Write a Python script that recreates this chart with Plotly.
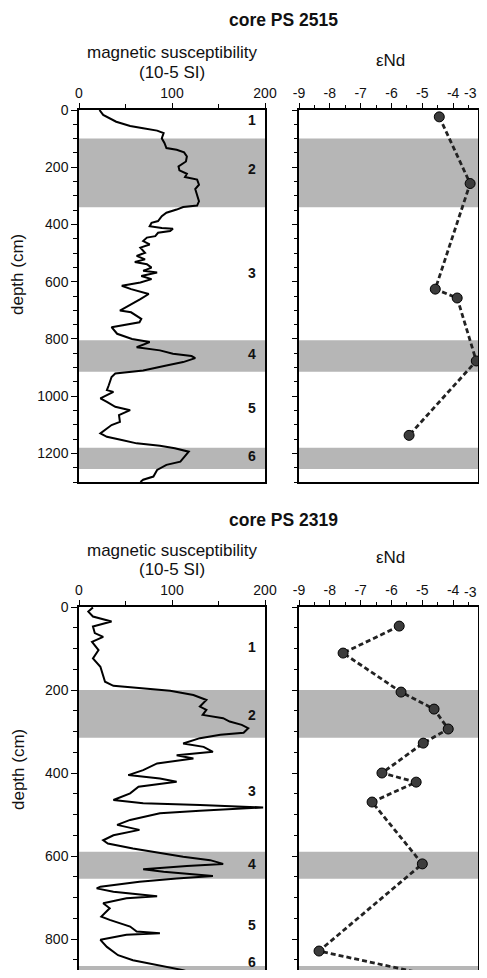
import plotly.graph_objects as go

# ---------------- data ----------------
# core PS 2515 magnetic susceptibility (10-5 SI) vs depth (cm)
ms1_depth = [0, 17, 41, 56, 64, 72, 81, 99, 116, 133, 139, 148, 162, 180, 197, 211, 223, 234, 243, 261,
             276, 296, 319, 334, 339, 348, 359, 371, 388, 394, 406, 412, 415, 423, 429, 441, 446, 458,
             470, 481, 499, 510, 522, 531, 539, 551, 562, 568, 580, 591, 603, 614, 626, 643, 661, 701,
             707, 730, 742, 759, 782, 800, 811, 829, 840, 852, 860, 867, 881, 893, 910, 921, 933, 962,
             979, 985, 1008, 1020, 1037, 1049, 1066, 1090, 1101, 1130, 1142, 1153, 1165, 1173, 1182,
             1194, 1211, 1229, 1240, 1258, 1281, 1292, 1300]
ms1_value = [22, 26, 40, 55, 69, 84, 91, 89, 92, 94, 105, 113, 116, 115, 107, 108, 116, 114, 127, 129,
             125, 127, 129, 127, 112, 105, 94, 89, 85, 78, 76, 89, 101, 98, 85, 82, 73, 69,
             76, 66, 71, 62, 71, 60, 73, 78, 69, 84, 67, 78, 66, 46, 56, 75, 66, 44,
             56, 67, 65, 35, 41, 57, 76, 62, 87, 101, 121, 125, 112, 94, 69, 39, 35, 32,
             30, 37, 23, 30, 39, 55, 43, 44, 35, 23, 30, 46, 62, 87, 103,
             118, 114, 109, 94, 84, 80, 69, 66]

# core PS 2515 eNd
nd1_depth = [24, 257, 626, 657, 877, 1137]
nd1_value = [-4.45, -3.45, -4.58, -3.87, -3.25, -5.43]

# core PS 2319 magnetic susceptibility
ms2_depth = [1, 11, 23, 35, 47, 63, 72, 84, 104, 124, 144, 164, 180, 190, 196, 202, 212, 224, 240,
             248, 260, 268, 276, 284, 292, 303, 308, 316, 329, 337, 349, 357, 365, 377, 393, 405,
             413, 421, 433, 449, 465, 473, 477, 483, 491, 497, 513, 525, 537, 550, 562, 570, 582,
             592, 602, 610, 619, 624, 632, 638, 648, 654, 662, 674, 678, 686, 697, 702, 714, 726,
             746, 754, 770, 782, 786, 790, 802, 819, 839, 851, 863, 875, 883, 891, 900]
ms2_value = [15, 10, 15, 35, 15, 17, 26, 14, 21, 15, 23, 26, 28, 37, 69, 98, 123, 137, 130,
             137, 133, 155, 162, 175, 182, 177, 152, 130, 112, 134, 144, 105, 123, 84, 69, 53,
             87, 105, 64, 55, 37, 69, 130, 198, 130, 87, 55, 41, 65, 37, 26, 31, 58,
             84, 112, 141, 155, 116, 69, 91, 144, 105, 65, 23, 19, 37, 84, 51, 26, 33,
             24, 33, 55, 62, 87, 51, 23, 30, 42, 58, 87, 112, 123, 116, 110]

# core PS 2319 eNd
nd2_depth = [46, 111, 205, 246, 294, 328, 400, 422, 470, 619, 829, 887]
nd2_value = [-5.75, -7.57, -5.69, -4.62, -4.16, -4.97, -6.31, -5.2, -6.63, -5.0, -8.35, -4.75]

# shaded intervals (depth top, depth bottom)
bands1 = [(100, 340), (805, 915), (1180, 1255)]
bands2 = [(200, 315), (590, 655), (865, 920)]

# unit labels
units = ["1", "2", "3", "4", "5", "6"]
units1_depth = [35, 205, 570, 852, 1040, 1210]
units2_depth = [96, 260, 443, 619, 766, 856]

ms_ticks = [0, 100, 200]
nd_ticks = [-9, -8, -7, -6, -5, -4]
nd_ticktext = ["-9", "-8", "-7", "-6", "-5", "-4"]
nd_edge_label = "-3"
depth1_ticks = [0, 200, 400, 600, 800, 1000, 1200]
depth2_ticks = [0, 200, 400, 600, 800]

# ---------------- figure ----------------
OFF = 8  # default page body margin; figure sized so the page does not overflow
W, H = 487 - 2 * OFF, 978 - 2 * OFF
def px(x):
    return (x - OFF) / W
def py(y):
    return 1 - (y - OFF) / H

FONT = "Liberation Sans, Arial, sans-serif"
fig = go.Figure()

line_style = dict(color="black", width=2)
nd_line = dict(color="#222", width=2.8, dash="5px,3px")
nd_marker = dict(size=10, color="#3c3c3c", line=dict(color="black", width=1))

fig.add_trace(go.Scatter(x=ms1_value, y=ms1_depth, mode="lines", line=line_style,
                         xaxis="x", yaxis="y", showlegend=False))
fig.add_trace(go.Scatter(x=nd1_value, y=nd1_depth, mode="lines+markers", line=nd_line,
                         marker=nd_marker, xaxis="x2", yaxis="y2", showlegend=False, cliponaxis=False))
fig.add_trace(go.Scatter(x=ms2_value, y=ms2_depth, mode="lines", line=line_style,
                         xaxis="x3", yaxis="y3", showlegend=False))
fig.add_trace(go.Scatter(x=nd2_value, y=nd2_depth, mode="lines+markers", line=nd_line,
                         marker=nd_marker, xaxis="x4", yaxis="y4", showlegend=False, cliponaxis=False))

ax_common = dict(showline=True, linecolor="black", linewidth=1.5, showgrid=False, zeroline=False,
                 ticks="outside", tickcolor="black", tickwidth=1.2, automargin=False,
                 tickfont=dict(family=FONT, size=14, color="#111"))
mn = dict(ticks="outside", tickcolor="black", tickwidth=1)

# pixel scale of the eNd axis in the reference: -9 at x=299, -3 at x=484;
# the visible page ends at 479, so the frame closes at 478 with the same scale
R_PX0, R_PX1, R_END = 299.0, 484.0, 478.0
nd_right = -9 + 6 * (R_END - R_PX0) / (R_PX1 - R_PX0)

xL = [px(79), px(265)]
xR = [px(R_PX0), px(R_END)]
yT = [py(482), py(110)]
yB = [0, py(607)]
depth2_bottom = (978 - OFF - 607) / 0.415

fig.update_layout(
    width=W, height=H, margin=dict(l=0, r=0, t=0, b=0, pad=0), autosize=False,
    paper_bgcolor="white", plot_bgcolor="rgba(0,0,0,0)",
    xaxis=dict(**ax_common, domain=xL, range=[0, 200], side="top", anchor="y", mirror=True,
               tickvals=ms_ticks, ticklen=5, minor=dict(dtick=50, ticklen=4, **mn)),
    yaxis=dict(**ax_common, domain=yT, range=[1300, 0], anchor="x", mirror=True,
               tickvals=depth1_ticks, ticklen=6, minor=dict(dtick=50, ticklen=4, **mn)),
    xaxis2=dict(**ax_common, domain=xR, range=[-9, nd_right], side="top", anchor="y2", mirror=True,
                tickvals=nd_ticks, ticktext=nd_ticktext, ticklen=5,
                minor=dict(dtick=0.5, ticklen=3, **mn)),
    yaxis2=dict(**ax_common, domain=yT, range=[1300, 0], anchor="x2", mirror=True, showticklabels=False,
                tickvals=depth1_ticks, ticklen=5, minor=dict(dtick=50, ticklen=3, **mn)),
    xaxis3=dict(**ax_common, domain=xL, range=[0, 200], side="top", anchor="y3", mirror=False,
                tickvals=ms_ticks, ticklen=5, minor=dict(dtick=50, ticklen=4, **mn)),
    yaxis3=dict(**ax_common, domain=yB, range=[depth2_bottom, 0], anchor="x3", mirror=True,
                tickvals=depth2_ticks, ticklen=6, minor=dict(dtick=50, ticklen=4, **mn)),
    xaxis4=dict(**ax_common, domain=xR, range=[-9, nd_right], side="top", anchor="y4", mirror=False,
                tickvals=nd_ticks, ticktext=nd_ticktext, ticklen=5,
                minor=dict(dtick=0.5, ticklen=3, **mn)),
    yaxis4=dict(**ax_common, domain=yB, range=[depth2_bottom, 0], anchor="x4", mirror=True,
                showticklabels=False,
                tickvals=depth2_ticks, ticklen=5, minor=dict(dtick=50, ticklen=3, **mn)),
)

shapes = []
for (a, b) in bands1:
    for xr, yr in (("x domain", "y"), ("x2 domain", "y2")):
        shapes.append(dict(type="rect", xref=xr, yref=yr, x0=0, x1=1, y0=a, y1=b,
                           fillcolor="#b6b6b6", line=dict(width=0), layer="below"))
for (a, b) in bands2:
    for xr, yr in (("x3 domain", "y3"), ("x4 domain", "y4")):
        shapes.append(dict(type="rect", xref=xr, yref=yr, x0=0, x1=1, y0=a, y1=min(b, depth2_bottom),
                           fillcolor="#b6b6b6", line=dict(width=0), layer="below"))
fig.update_layout(shapes=shapes)

ann = []
txt = dict(family=FONT, size=17, color="#111")
def label(text, x, y, font, **kw):
    ann.append(dict(text=text, x=px(x), y=py(y), xref="paper", yref="paper", showarrow=False,
                    xanchor="center", yanchor="middle", font=font, **kw))

tfont = dict(family=FONT, size=17.5, color="#111")
label("<b>core PS 2515</b>", 283, 20, tfont)
label("<b>core PS 2319</b>", 283, 520, tfont)
for y0 in (0, 497):
    label("magnetic susceptibility", 172, 53 + y0, txt)
    label("(10-5 SI)", 172, 72 + y0, txt)
    label("εNd", 390, 60 + y0, txt)
label("depth (cm)", 18, 275, txt, textangle=-90)
label("depth (cm)", 18, 770, txt, textangle=-90)

# right-edge tick label of the eNd axes (kept inside the page)
tickfont = dict(family=FONT, size=14, color="#111")
for ax_y in (93, 592):
    ann.append(dict(text=nd_edge_label, x=px(479), y=py(ax_y), xref="paper", yref="paper",
                    showarrow=False, xanchor="right", yanchor="middle", font=tickfont))

ufont = dict(family=FONT, size=14, color="#111")
for u, d in zip(units, units1_depth):
    ann.append(dict(text="<b>" + u + "</b>", x=186, y=d, xref="x", yref="y", showarrow=False,
                    xanchor="center", yanchor="middle", font=ufont))
for u, d in zip(units, units2_depth):
    ann.append(dict(text="<b>" + u + "</b>", x=186, y=d, xref="x3", yref="y3", showarrow=False,
                    xanchor="center", yanchor="middle", font=ufont))
fig.update_layout(annotations=ann)

fig.write_html("out.html")
